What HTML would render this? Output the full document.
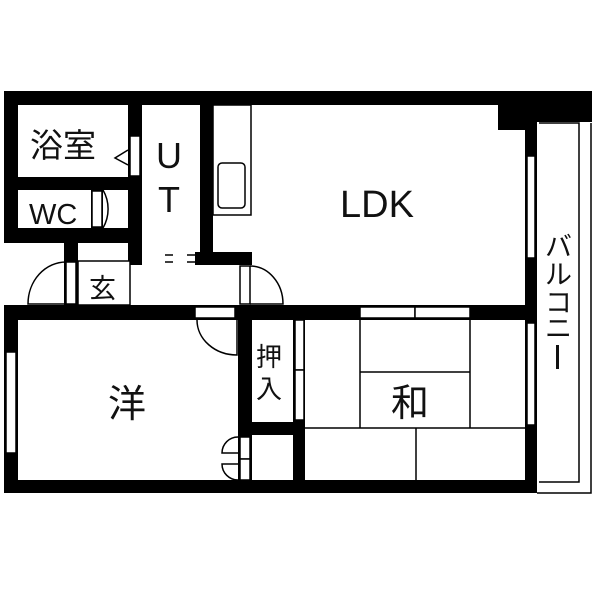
<!DOCTYPE html>
<html><head><meta charset="utf-8"><style>body{margin:0;background:#fff}svg{display:block}text{font-family:"Liberation Sans","Noto Sans CJK JP",sans-serif;fill:#111}</style></head><body>
<svg width="600" height="600" viewBox="0 0 600 600">
<g fill="#000">
<rect x="4" y="91" width="588" height="14"/>
<rect x="4" y="91" width="14" height="152"/>
<rect x="498" y="91" width="27" height="39"/>
<rect x="525" y="91" width="67" height="31"/>
<rect x="525" y="91" width="12" height="402"/>
<rect x="4" y="177" width="138" height="13"/>
<rect x="4" y="228" width="136" height="15"/>
<rect x="128" y="105" width="14" height="160"/>
<rect x="91" y="190" width="12" height="38"/>
<rect x="64" y="243" width="14" height="62"/>
<rect x="128" y="252" width="37" height="13"/>
<rect x="195" y="252" width="57" height="13"/>
<rect x="200" y="105" width="13" height="160"/>
<rect x="4" y="305" width="533" height="15"/>
<rect x="4" y="305" width="14" height="188"/>
<rect x="4" y="480" width="533" height="13"/>
<rect x="238" y="305" width="14" height="188"/>
<rect x="238" y="422" width="67" height="13"/>
<rect x="293" y="318" width="12" height="175"/>
</g>
<g fill="#fff" stroke="#000" stroke-width="1.5">
<rect x="130" y="136" width="10" height="40"/>
<rect x="92" y="191" width="10" height="36"/>
<rect x="66" y="262" width="10" height="42"/>
<rect x="240" y="266" width="10" height="38"/>
<rect x="195" y="307" width="40" height="11"/>
<rect x="360" y="307" width="55" height="11"/>
<rect x="415" y="307" width="55" height="11"/>
<rect x="6" y="352" width="10" height="101"/>
<rect x="527" y="156" width="8" height="102"/>
<rect x="527" y="323" width="8" height="102"/>
<rect x="295" y="320" width="9" height="50"/>
<rect x="295" y="370" width="9" height="50"/>
<rect x="240" y="437" width="10" height="22"/>
<rect x="240" y="459" width="10" height="21"/>
<rect x="213" y="105" width="38" height="110"/>
<rect x="218" y="163" width="27" height="45" rx="4"/>
<rect x="78" y="261" width="52" height="44"/>
<rect x="142" y="252" width="23" height="13" stroke="none"/>
</g>
<g fill="none" stroke="#000" stroke-width="1.5">
<path d="M103 190 A38 38 0 0 1 103 228"/>
<path d="M66 262 A38 42 0 0 0 28 304 L66 304"/>
<path d="M250 266 A33 38 0 0 1 283 304 L250 304"/>
<path d="M197 320 A40 35 0 0 0 237 355 L237 320"/>
<path d="M238 437 A16 16 0 0 0 222 453 L238 453"/>
<path d="M238 480 A16 16 0 0 1 222 464 L238 464"/>
<path d="M128 150 L115 158 L128 165"/>
<path d="M165 255 L173 255 M165 262 L173 262 M187 255 L195 255 M187 262 L195 262"/>
<path d="M360 320 V428 M470 320 V428 M360 372 H470 M305 428 H525 M416 428 V480"/>
<path d="M539 123 H579 V482 H539 M591 123 V493 H537"/>
</g>
<text x="30" y="157" font-size="33">浴室</text>
<text x="29" y="224" font-size="29">WC</text>
<text x="156" y="168" font-size="36">U</text>
<text x="158" y="212" font-size="36">T</text>
<text x="340" y="217" font-size="38">LDK</text>
<text x="89" y="298" font-size="27">玄</text>
<text x="108" y="417" font-size="38">洋</text>
<text x="391" y="416" font-size="38">和</text>
<text x="256" y="366" font-size="26">押</text>
<text x="256" y="398" font-size="26">入</text>
<g font-size="27" font-family="'Noto Sans CJK JP',sans-serif">
<text x="545" y="256">バ</text><text x="545" y="284">ル</text><text x="545" y="312">コ</text><text x="545" y="338">ニ</text>
</g>
<rect x="556" y="345" width="3" height="24" fill="#111"/>
</svg>
</body></html>
